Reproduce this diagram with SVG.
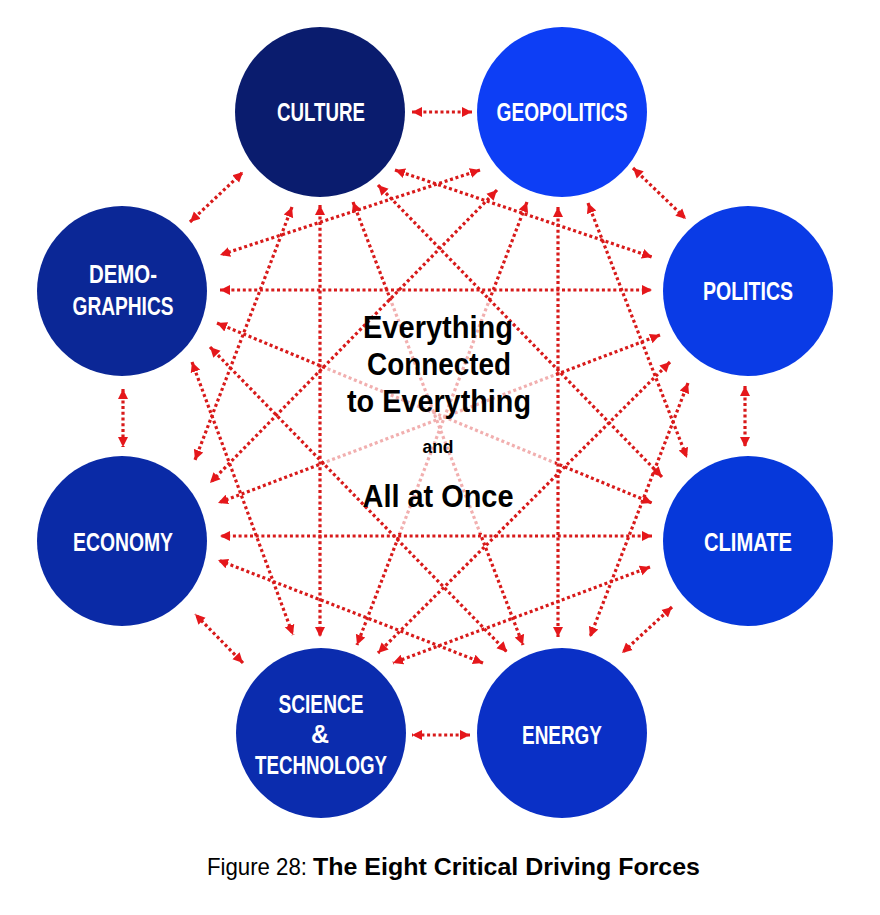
<svg xmlns="http://www.w3.org/2000/svg" width="880" height="915" viewBox="0 0 880 915">
<defs>
<style>
.lbl{font-family:"Liberation Sans",Arial,sans-serif;font-weight:bold;fill:#ffffff;font-size:25px;text-anchor:middle}
.ctr{font-family:"Liberation Sans",Arial,sans-serif;font-weight:bold;fill:#000000;text-anchor:middle}
.ln{stroke:#d81a1a;stroke-width:3.2;stroke-dasharray:3 2.7;fill:none;marker-start:url(#ah);marker-end:url(#ah)}
</style>
<marker id="ah" viewBox="0 0 10 10" refX="10" refY="5" markerWidth="10" markerHeight="12" markerUnits="userSpaceOnUse" orient="auto-start-reverse">
<path d="M0,0 L10,5 L0,10 z" fill="#e5171b"/>
</marker>
</defs>
<rect width="880" height="915" fill="#ffffff"/>

<g id="connectors">
<line class="ln" x1="412" y1="112" x2="472" y2="112"/>
<line class="ln" x1="633" y1="168" x2="686" y2="219"/>
<line class="ln" x1="745" y1="386" x2="745" y2="447"/>
<line class="ln" x1="672" y1="607" x2="622" y2="653"/>
<line class="ln" x1="470" y1="735" x2="412" y2="735"/>
<line class="ln" x1="243" y1="663" x2="195" y2="614"/>
<line class="ln" x1="123" y1="389" x2="123" y2="447"/>
<line class="ln" x1="190" y1="222" x2="243" y2="172"/>

<line class="ln" x1="395" y1="170" x2="652" y2="257"/>
<line class="ln" x1="378" y1="185" x2="662" y2="477"/>
<line class="ln" x1="353" y1="202" x2="523" y2="645"/>
<line class="ln" x1="320" y1="205" x2="320" y2="637"/>
<line class="ln" x1="292" y1="207" x2="195" y2="460"/>
<line class="ln" x1="480" y1="170" x2="220" y2="255"/>
<line class="ln" x1="497" y1="190" x2="210" y2="483"/>
<line class="ln" x1="527" y1="202" x2="357" y2="645"/>
<line class="ln" x1="558" y1="207" x2="558" y2="637"/>
<line class="ln" x1="588" y1="203" x2="687" y2="458"/>
<line class="ln" x1="220" y1="290" x2="652" y2="290"/>
<line class="ln" x1="217" y1="323" x2="652" y2="503"/>
<line class="ln" x1="210" y1="347" x2="507" y2="652"/>
<line class="ln" x1="192" y1="362" x2="293" y2="635"/>
<line class="ln" x1="660" y1="335" x2="218" y2="503"/>
<line class="ln" x1="670" y1="362" x2="378" y2="653"/>
<line class="ln" x1="688" y1="383" x2="590" y2="637"/>
<line class="ln" x1="652" y1="536" x2="220" y2="536"/>
<line class="ln" x1="650" y1="567" x2="393" y2="663"/>
<line class="ln" x1="483" y1="663" x2="218" y2="560"/>
<polygon points="401,293 479,293 555,371 555,472 494,533 395,533 323,459 323,372" fill="#ffffff" fill-opacity="0.65"/>
</g>

<g id="culture">
<circle cx="320" cy="112" r="85" fill="#0a1c6e"/>
<text class="lbl" x="321" y="121" textLength="88" lengthAdjust="spacingAndGlyphs">CULTURE</text>
</g>
<g id="geopolitics">
<circle cx="562" cy="112" r="85" fill="#0d3ef5"/>
<text class="lbl" x="562" y="121" textLength="131" lengthAdjust="spacingAndGlyphs">GEOPOLITICS</text>
</g>
<g id="politics">
<circle cx="748" cy="291" r="85" fill="#0a3be6"/>
<text class="lbl" x="748" y="300" textLength="90" lengthAdjust="spacingAndGlyphs">POLITICS</text>
</g>
<g id="climate">
<circle cx="748" cy="541" r="85" fill="#0638da"/>
<text class="lbl" x="748" y="551" textLength="88" lengthAdjust="spacingAndGlyphs">CLIMATE</text>
</g>
<g id="energy">
<circle cx="562" cy="733" r="85" fill="#0a30c6"/>
<text class="lbl" x="562" y="744" textLength="80" lengthAdjust="spacingAndGlyphs">ENERGY</text>
</g>
<g id="science-technology">
<circle cx="321" cy="733" r="85" fill="#0b2cae"/>
<text class="lbl" x="321" y="713" textLength="85" lengthAdjust="spacingAndGlyphs">SCIENCE</text>
<text class="lbl" x="320" y="743">&amp;</text>
<text class="lbl" x="321" y="774" textLength="132" lengthAdjust="spacingAndGlyphs">TECHNOLOGY</text>
</g>
<g id="economy">
<circle cx="122" cy="541" r="85" fill="#0a2aa6"/>
<text class="lbl" x="123" y="551" textLength="100" lengthAdjust="spacingAndGlyphs">ECONOMY</text>
</g>
<g id="demographics">
<circle cx="122" cy="291" r="85" fill="#0b2796"/>
<text class="lbl" x="123" y="283" textLength="68" lengthAdjust="spacingAndGlyphs">DEMO-</text>
<text class="lbl" x="123" y="315" textLength="101" lengthAdjust="spacingAndGlyphs">GRAPHICS</text>
</g>

<g id="center-text">
<text class="ctr" x="438" y="338" font-size="32" textLength="150" lengthAdjust="spacingAndGlyphs">Everything</text>
<text class="ctr" x="439" y="375" font-size="32" textLength="144" lengthAdjust="spacingAndGlyphs">Connected</text>
<text class="ctr" x="439" y="412" font-size="32" textLength="184" lengthAdjust="spacingAndGlyphs">to Everything</text>
<text class="ctr" x="438" y="453" font-size="19" textLength="31" lengthAdjust="spacingAndGlyphs">and</text>
<text class="ctr" x="438" y="507" font-size="31" textLength="151" lengthAdjust="spacingAndGlyphs">All at Once</text>
</g>

<g id="caption">
<text x="207" y="875" font-family="'Liberation Sans',Arial,sans-serif" font-size="24" fill="#000000" textLength="100" lengthAdjust="spacingAndGlyphs">Figure 28:</text>
<text x="313" y="875" font-family="'Liberation Sans',Arial,sans-serif" font-weight="bold" font-size="24" fill="#000000" textLength="387" lengthAdjust="spacingAndGlyphs">The Eight Critical Driving Forces</text>
</g>
</svg>
